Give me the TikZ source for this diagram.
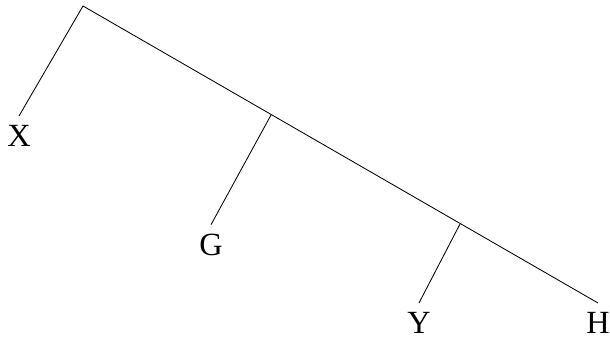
\documentclass[tikz,border=0pt]{standalone}
\usepackage{fontspec}
\setmainfont{Liberation Serif}
\usetikzlibrary{positioning}
\newcommand{\fLeaf}{\fontsize{23}{27}\selectfont}

\begin{document}
\begin{tikzpicture}[x=0.025cm,y=-0.025cm,
  leaf/.style={inner sep=6.5pt,font=\fLeaf},
  edge/.style={line width=0.6pt,black}]
  \useasboundingbox (0,0) rectangle (610,339);
  \coordinate (root) at (83,6);
  \coordinate (mid1) at (271,115);
  \coordinate (mid2) at (460,224);
  \node[leaf] (x) at (19,136) {X};
  \node[leaf] (g) at (211,245) {G};
  \node[leaf] (y) at (419,323) {Y};
  \node[leaf] (h) at (598,323) {H};
  \draw[edge] (x.north) -- (root) -- (h.north);
  \draw[edge] (mid1) -- (g.north);
  \draw[edge] (mid2) -- (y.north);
\end{tikzpicture}
\end{document}
